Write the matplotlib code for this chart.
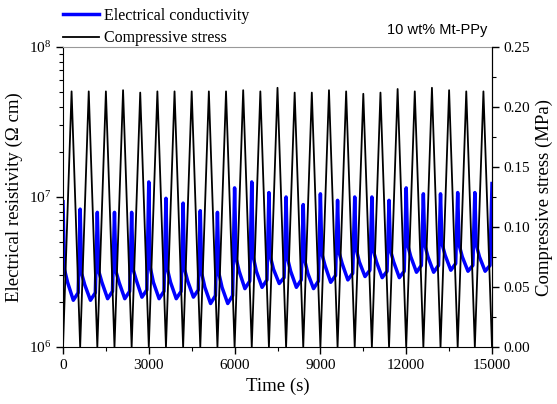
import numpy as np
import matplotlib
matplotlib.use("Agg")
import matplotlib.pyplot as plt
from matplotlib.ticker import MultipleLocator, LogLocator

plt.rcParams['font.family'] = ['Liberation Serif', 'DejaVu Serif']
plt.rcParams['mathtext.fontset'] = 'custom'
plt.rcParams['mathtext.rm'] = 'Liberation Serif'
plt.rcParams['mathtext.it'] = 'Liberation Serif:italic'

# stress: triangle loading, 25 cycles of 600 s, peak values read per cycle (MPa)
cycle_period = 600
stress_peak = [0.213, 0.213, 0.213, 0.214, 0.212, 0.213, 0.213, 0.213, 0.213, 0.213,
               0.214, 0.213, 0.216, 0.212, 0.212, 0.214, 0.213, 0.211, 0.212, 0.215,
               0.213, 0.216, 0.214, 0.213, 0.213]

# resistivity key points per cycle (x1e6 Ohm cm)
res_peak = [9.3, 8.3, 7.9, 7.9, 7.9, 12.6, 9.8, 9.1, 8.1, 7.9, 11.5, 12.6, 10.7,
            10.0, 8.9, 10.5, 9.5, 10.0, 10.0, 9.5, 11.5, 10.5, 10.5, 10.7, 10.7, 12.3]
res_drop = [3.3, 3.1, 3.2, 3.2, 3.3, 3.4, 3.3, 3.3, 3.1, 3.1, 3.9, 4.0, 4.0,
            3.9, 3.8, 4.2, 4.3, 4.5, 4.4, 4.4, 4.8, 4.8, 4.9, 4.8, 4.8]
res_shoulder = [2.7, 2.6, 2.7, 2.7, 2.8, 2.7, 2.7, 2.75, 2.5, 2.5, 3.2, 3.2, 3.3,
                3.2, 3.1, 3.5, 3.6, 3.7, 3.7, 3.7, 4.0, 4.0, 4.1, 4.0, 4.0]
res_trough = [2.05, 2.05, 2.1, 2.1, 2.15, 2.1, 2.1, 2.15, 1.95, 1.95, 2.45, 2.5, 2.65,
              2.5, 2.45, 2.7, 2.8, 2.95, 2.9, 2.9, 3.15, 3.15, 3.25, 3.2, 3.2]
res_rise = [2.3, 2.3, 2.35, 2.35, 2.4, 2.35, 2.35, 2.4, 2.2, 2.2, 2.75, 2.8, 2.9,
            2.8, 2.75, 3.0, 3.1, 3.25, 3.2, 3.2, 3.5, 3.5, 3.6, 3.5, 3.5]
res_offsets = [0, 50, 160, 360, 530]  # seconds into each cycle

# build stress series
t_s = [0]
s_vals = [0.0]
for i, p in enumerate(stress_peak):
    t_s += [i * cycle_period + cycle_period / 2, (i + 1) * cycle_period]
    s_vals += [p, 0.0]

# build resistivity series
t_r = []
r_vals = []
for i in range(len(res_trough)):
    vals = [res_peak[i], res_drop[i], res_shoulder[i], res_trough[i], res_rise[i]]
    for off, v in zip(res_offsets, vals):
        t_r.append(i * cycle_period + off)
        r_vals.append(v * 1e6)
t_r.append(len(res_trough) * cycle_period)
r_vals.append(res_peak[-1] * 1e6)

fig = plt.figure(figsize=(5.57, 4.04), dpi=100)
ax = fig.add_axes([63 / 557, 1 - 347 / 404, (492 - 63) / 557, 300 / 404])
ax2 = ax.twinx()

l1, = ax.plot(t_r, r_vals, color='#0000ff', lw=2.5)
l2, = ax2.plot(t_s, s_vals, color='black', lw=1.3)

ax.set_yscale('log')
ax.set_ylim(1e6, 1e8)
ax.set_xlim(0, 15000)
ax2.set_ylim(0, 0.25)

ax.xaxis.set_major_locator(MultipleLocator(3000))
ax.xaxis.set_minor_locator(MultipleLocator(1500))
ax.yaxis.set_minor_locator(LogLocator(base=10, subs=np.arange(2, 10)))
ax2.yaxis.set_major_locator(MultipleLocator(0.05))
ax2.yaxis.set_minor_locator(MultipleLocator(0.025))
ax2.yaxis.set_major_formatter(plt.FuncFormatter(lambda v, p: f"{v:.2f}"))

for a in (ax, ax2):
    a.tick_params(which='major', direction='out', length=5, width=1, labelsize=11)
    a.tick_params(which='minor', direction='out', length=3, width=0.8)
ax.tick_params(axis='y', which='minor', labelleft=False)

ax.spines['top'].set_color('#999999')
ax.spines['top'].set_linewidth(0.8)
ax2.spines['top'].set_visible(False)
ax2.spines['left'].set_visible(False)
ax2.spines['bottom'].set_visible(False)

ax.set_xlabel('Time (s)', fontsize=13.5)
ax.set_ylabel('Electrical resistivity (\u03a9 cm)', fontsize=13.5)
ax2.set_ylabel('Compressive stress (MPa)', fontsize=13.5)

fig.text(487 / 557, 1 - 30 / 404, '10 wt% Mt-PPy', ha='right', va='center',
         fontsize=10.5, family='Liberation Sans')

fig.legend([l1, l2], ['Electrical conductivity', 'Compressive stress'],
           loc='upper left', bbox_to_anchor=(63 / 557, 1 - 8 / 404),
           frameon=False, fontsize=11.5, handlelength=2.25, handletextpad=0.3,
           labelspacing=0.4, borderpad=0, borderaxespad=0)

fig.savefig('out.png', dpi=100)
